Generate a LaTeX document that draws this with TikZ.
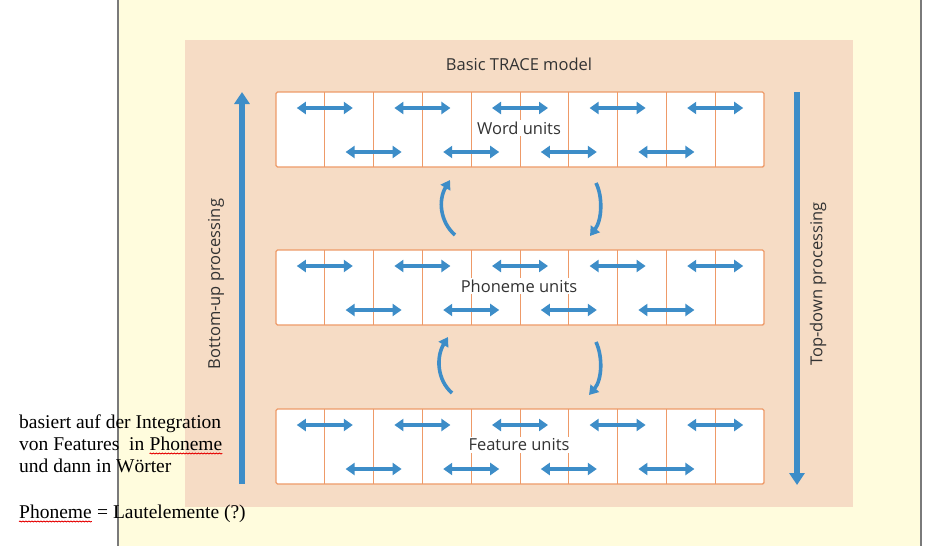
\documentclass[tikz,border=0pt]{standalone}
\usepackage{fontspec}
\setmainfont{Liberation Serif}
\newfontfamily\diagfont{Open Sans}
\usetikzlibrary{arrows.meta,decorations.pathmorphing}
\definecolor{yellowbg}{HTML}{FFFCDD}
\definecolor{peachbg}{HTML}{F6DCC5}
\definecolor{unitborder}{HTML}{EE9A68}
\definecolor{arrowblue}{HTML}{3D8DC8}
\definecolor{framegray}{HTML}{7A7A7A}
\tikzset{
  unitrow/.style={draw=unitborder, line width=1.4pt, fill=white, rounded corners=1.5pt,
    minimum width=488pt, minimum height=75pt, inner sep=0pt},
  divider/.style={draw=unitborder, line width=0.9pt},
  darr/.style={draw=arrowblue, line width=3.8pt,
    {Triangle[width=12pt,length=9pt]}-{Triangle[width=12pt,length=9pt]}},
  carr/.style={draw=arrowblue, line width=3.6pt, -{Triangle[width=11pt,length=9pt]}},
  bigarr/.style={draw=arrowblue, line width=5.5pt, -{Triangle[width=15pt,length=12pt]}},
  diagtext/.style={font=\diagfont\fontsize{16.5}{19}\selectfont, text=black!80},
  unitlabel/.style={diagtext, fill=white, inner sep=1.5pt},
  sidelabel/.style={diagtext, rotate=90},
  note/.style={font=\fontsize{19.5}{23}\selectfont, anchor=base west, inner sep=0pt},
  wavy/.style={draw=red!90!black, line width=0.9pt, decorate,
    decoration={snake, amplitude=0.45pt, segment length=3pt}}
}
\begin{document}
\begin{tikzpicture}[x=1pt,y=-1pt]
\useasboundingbox (0,0) rectangle (942,546);
\fill[white] (0,0) rectangle (942,546);
\fill[yellowbg] (118,0) rectangle (921,546);
\draw[framegray, line width=1.4pt] (118,0) -- (118,546);
\draw[framegray, line width=1.4pt] (921,0) -- (921,546);
\fill[peachbg] (185,40) rectangle (853,507);

\node[diagtext] (title) at (519,64) {Basic TRACE model};

% rows
\foreach \nm/\T/\lbl in {word/92/Word units, phon/250/Phoneme units, feat/409/Feature units}{
  \node[unitrow] (\nm) at (520,\T+37.5) {};
  \foreach \i in {1,...,9}{
    \draw[divider] ({276+48.8*\i},\T) -- ({276+48.8*\i},\T+75);
  }
  \foreach \i in {1,3,5,7,9}{
    \draw[darr] ({276+48.8*\i-28},\T+16) -- ({276+48.8*\i+28},\T+16);
  }
  \foreach \i in {2,4,6,8}{
    \draw[darr] ({276+48.8*\i-28},\T+60) -- ({276+48.8*\i+28},\T+60);
  }
  \node[unitlabel] (\nm-label) at (519,\T+36) {\lbl};
}

% curved arrows between rows
\coordinate (c1s) at (455,235); \coordinate (c1e) at (450,180);
\coordinate (c2s) at (596,183); \coordinate (c2e) at (590,236);
\coordinate (c3s) at (452,393); \coordinate (c3e) at (448,337);
\coordinate (c4s) at (596,342); \coordinate (c4e) at (589,395);
\draw[carr] (c1s) .. controls (440,222) and (438,200) .. (c1e);
\draw[carr] (c2s) .. controls (603,197) and (602,220) .. (c2e);
\draw[carr] (c3s) .. controls (437,380) and (436,357) .. (c3e);
\draw[carr] (c4s) .. controls (603,357) and (602,380) .. (c4e);

% processing arrows
\coordinate (bu-s) at (242,484); \coordinate (bu-e) at (242,92);
\coordinate (td-s) at (797,92); \coordinate (td-e) at (797,485);
\draw[bigarr] (bu-s) -- (bu-e);
\draw[bigarr] (td-s) -- (td-e);
\node[sidelabel] (bulabel) at (216,284) {Bottom-up processing};
\node[sidelabel] (tdlabel) at (818,284) {Top-down processing};

% notes
\node[note] (n1) at (19,428) {basiert auf der Integration};
\node[note] (n2a) at (19,450) {von Features\ \ in\kern5pt};
\node[note] (n2b) at (n2a.base east) {Phoneme};
\node[note] (n3) at (19,472) {und dann in Wörter};
\node[note] (n4a) at (19,518) {Phoneme};
\node[note] (n4b) at (n4a.base east) {\kern5pt= Lautelemente (?)};
\draw[wavy] ([yshift=-3.5pt]n2b.base west) -- ([yshift=-3.5pt]n2b.base east);
\draw[wavy] ([yshift=-3.5pt]n4a.base west) -- ([yshift=-3.5pt]n4a.base east);
\end{tikzpicture}
\end{document}
